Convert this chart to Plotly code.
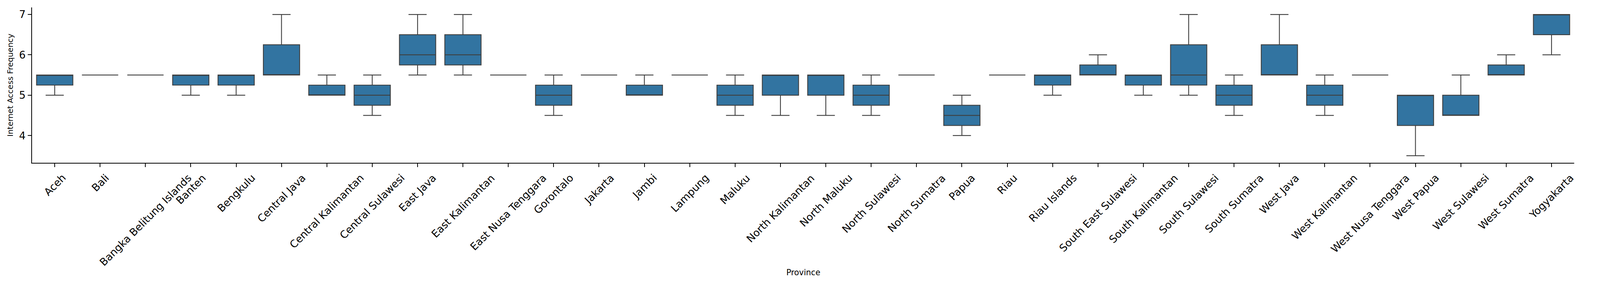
import plotly.graph_objects as go

provinces = ["Aceh", "Bali", "Bangka Belitung Islands", "Banten", "Bengkulu",
             "Central Java", "Central Kalimantan", "Central Sulawesi", "East Java",
             "East Kalimantan", "East Nusa Tenggara", "Gorontalo", "Jakarta", "Jambi",
             "Lampung", "Maluku", "North Kalimantan", "North Maluku", "North Sulawesi",
             "North Sumatra", "Papua", "Riau", "Riau Islands", "South East Sulawesi",
             "South Kalimantan", "South Sulawesi", "South Sumatra", "West Java",
             "West Kalimantan", "West Nusa Tenggara", "West Papua", "West Sulawesi",
             "West Sumatra", "Yogyakarta"]

lower_whisker = [5.0, 5.5, 5.5, 5.0, 5.0, 5.5, 5.0, 4.5, 5.5, 5.5, 5.5, 4.5, 5.5, 5.0,
                 5.5, 4.5, 4.5, 4.5, 4.5, 5.5, 4.0, 5.5, 5.0, 5.5, 5.0, 5.0, 4.5, 5.5,
                 4.5, 5.5, 3.5, 4.5, 5.5, 6.0]
q1_values = [5.25, 5.5, 5.5, 5.25, 5.25, 5.5, 5.0, 4.75, 5.75, 5.75, 5.5, 4.75, 5.5, 5.0,
             5.5, 4.75, 5.0, 5.0, 4.75, 5.5, 4.25, 5.5, 5.25, 5.5, 5.25, 5.25, 4.75, 5.5,
             4.75, 5.5, 4.25, 4.5, 5.5, 6.5]
median_values = [5.5, 5.5, 5.5, 5.5, 5.5, 5.5, 5.0, 5.0, 6.0, 6.0, 5.5, 5.0, 5.5, 5.0,
                 5.5, 5.0, 5.5, 5.5, 5.0, 5.5, 4.5, 5.5, 5.5, 5.5, 5.5, 5.5, 5.0, 5.5,
                 5.0, 5.5, 5.0, 4.5, 5.5, 7.0]
q3_values = [5.5, 5.5, 5.5, 5.5, 5.5, 6.25, 5.25, 5.25, 6.5, 6.5, 5.5, 5.25, 5.5, 5.25,
             5.5, 5.25, 5.5, 5.5, 5.25, 5.5, 4.75, 5.5, 5.5, 5.75, 5.5, 6.25, 5.25, 6.25,
             5.25, 5.5, 5.0, 5.0, 5.75, 7.0]
upper_whisker = [5.5, 5.5, 5.5, 5.5, 5.5, 7.0, 5.5, 5.5, 7.0, 7.0, 5.5, 5.5, 5.5, 5.5,
                 5.5, 5.5, 5.5, 5.5, 5.5, 5.5, 5.0, 5.5, 5.5, 6.0, 5.5, 7.0, 5.5, 7.0,
                 5.5, 5.5, 5.0, 5.5, 6.0, 7.0]

y_ticks = [4, 5, 6, 7]
x_title = "Province"
y_title = "Internet Access Frequency"

FONT = "DejaVu Sans"
LINE = "#3f3f3f"
FILL = "#3274a1"

fig = go.Figure()
fig.add_trace(go.Box(
    x=provinces,
    lowerfence=lower_whisker,
    q1=q1_values,
    median=median_values,
    q3=q3_values,
    upperfence=upper_whisker,
    width=0.8,
    whiskerwidth=0.5,
    fillcolor=FILL,
    line=dict(color=LINE, width=2.2),
    boxpoints=False,
    showlegend=False,
    hoverinfo="skip",
))

annotations = []
for p in provinces:
    annotations.append(dict(
        x=p, xref="x", y=0, yref="paper", yshift=-20,
        text=p, textangle=-45, showarrow=False,
        xanchor="center", yanchor="top",
        font=dict(family=FONT, size=26.5, color="black"),
    ))
annotations.append(dict(
    x=0.5, xref="paper", y=0, yref="paper", yshift=-281,
    text=x_title, showarrow=False, xanchor="center", yanchor="middle",
    font=dict(family=FONT, size=20.5, color="black"),
))
annotations.append(dict(
    x=0, xref="paper", xshift=-56, y=0.5, yref="paper",
    text=y_title, textangle=-90, showarrow=False, xanchor="center", yanchor="middle",
    font=dict(family=FONT, size=20, color="black"),
))

fig.update_layout(
    width=4096, height=730,
    margin=dict(l=82, r=66, t=19, b=313, pad=0),
    paper_bgcolor="white", plot_bgcolor="white",
    font=dict(family=FONT, color="black"),
    annotations=annotations,
    xaxis=dict(
        type="category", categoryorder="array", categoryarray=provinces,
        range=[-0.5, len(provinces) - 0.5],
        showgrid=False, zeroline=False, showline=True, linecolor="black", linewidth=2,
        ticks="outside", ticklen=9, tickwidth=2, tickcolor="black",
        showticklabels=False,
    ),
    yaxis=dict(
        range=[3.325, 7.175], tickvals=y_ticks,
        showgrid=False, zeroline=False, showline=True, linecolor="black", linewidth=2,
        ticks="outside", ticklen=9, tickwidth=2, tickcolor="black",
        tickfont=dict(family=FONT, size=26.5, color="black"),
    ),
)

post = "document.body.style.margin='0';document.documentElement.style.overflow='hidden';"
fig.write_html("out.html", post_script=post, config={"displayModeBar": False})
